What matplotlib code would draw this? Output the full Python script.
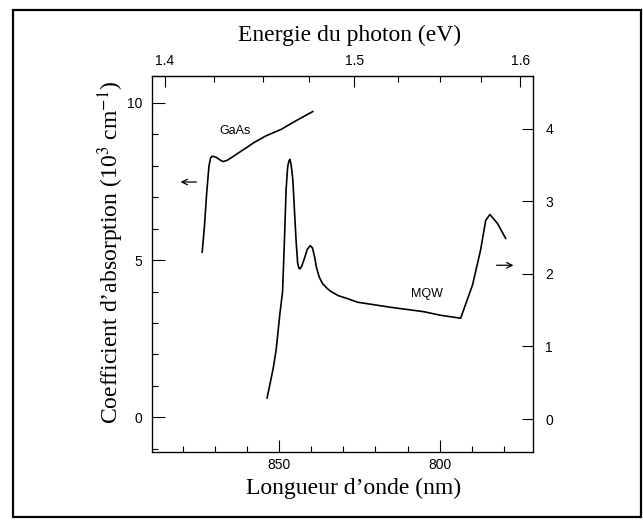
import matplotlib
matplotlib.use("Agg")
import matplotlib.pyplot as plt
import numpy as np
from matplotlib.patches import Rectangle
from matplotlib.ticker import MultipleLocator, FixedLocator

plt.rcParams['mathtext.fontset'] = 'stix'

# GaAs absorption (left axis, 10^3 cm^-1) vs wavelength (nm)
gaas_nm = [873.9, 873.2, 872.5, 871.8, 871.3, 870.8, 869.6, 868.6, 867.5, 866.1,
           864.6, 861.8, 859.7, 857.7, 854.0, 849.4, 845.2, 839.5]
gaas_abs = [5.25, 6.06, 7.12, 7.97, 8.24, 8.30, 8.27, 8.20, 8.13, 8.17,
            8.27, 8.46, 8.60, 8.74, 8.95, 9.15, 9.40, 9.72]

# MQW absorption (right axis) vs wavelength (nm)
mqw_nm = [853.7, 851.8, 850.9, 849.7, 848.9, 848.3, 847.8, 847.3, 846.9, 846.6,
          846.2, 845.7, 844.7, 844.2, 843.8, 843.5, 843.0, 842.2, 841.2, 840.3,
          839.6, 839.0, 838.3, 837.5, 836.5, 835.0, 833.9, 831.5, 828.7, 825.5,
          815.2, 805.0, 799.7, 793.5, 789.8, 787.3, 785.7, 784.4, 782.1, 779.5]
mqw_abs = [0.29, 0.70, 0.95, 1.46, 1.75, 2.47, 3.16, 3.48, 3.56, 3.58,
           3.50, 3.30, 2.47, 2.15, 2.08, 2.07, 2.10, 2.20, 2.34, 2.39,
           2.36, 2.25, 2.08, 1.96, 1.87, 1.80, 1.76, 1.70, 1.66, 1.61,
           1.54, 1.48, 1.43, 1.39, 1.85, 2.33, 2.74, 2.82, 2.70, 2.49]

left_ticks = [0, 5, 10]
right_ticks = [0, 1, 2, 3, 4]
nm_ticks = [850, 800]
ev_ticks = [1.4, 1.5, 1.6]
ev_labels = ['1.4', '1.5', '1.6']

HC = 1239.84


def nm_to_ev(x):
    x = np.asarray(x, dtype=float)
    with np.errstate(divide='ignore', invalid='ignore'):
        return HC / x


serif = 'Liberation Serif'
sans = 'Liberation Sans'

fig = plt.figure(figsize=(6.43, 5.20), dpi=100)

# scanned frame around the figure
fig.patches.append(Rectangle((12.5 / 643, 1 - 517 / 520), 628 / 643, 507 / 520,
                             transform=fig.transFigure, fill=False,
                             lw=1.6, edgecolor='black'))

ax = fig.add_axes([152 / 643, 1 - 452 / 520, 381 / 643, 376 / 520])
ax.plot(gaas_nm, gaas_abs, color='black', lw=1.2)
ax.set_xlim(889.5, 771)
ax.set_ylim(-1.1, 10.85)

ax2 = ax.twinx()
ax2.plot(mqw_nm, mqw_abs, color='black', lw=1.2)
ax2.set_ylim(-0.455, 4.73)

# ticks
ax.xaxis.set_major_locator(FixedLocator(nm_ticks))
ax.xaxis.set_minor_locator(MultipleLocator(10))
ax.yaxis.set_major_locator(FixedLocator(left_ticks))
ax.yaxis.set_minor_locator(MultipleLocator(1))
ax.tick_params(axis='both', which='major', direction='in', length=9, width=0.8,
               labelsize=10, pad=7)
ax.tick_params(axis='x', which='major', pad=4)
ax.tick_params(axis='both', which='minor', direction='in', length=4, width=0.8)
ax.tick_params(axis='y', right=False)
ax2.yaxis.set_major_locator(FixedLocator(right_ticks))
ax2.tick_params(axis='y', direction='in', length=8, width=0.8, labelsize=10, pad=9)

top = ax.secondary_xaxis('top', functions=(nm_to_ev, nm_to_ev))
top.xaxis.set_major_locator(FixedLocator(ev_ticks))
top.set_xticklabels(ev_labels)
top.xaxis.set_minor_locator(MultipleLocator(0.025))
top.tick_params(which='major', direction='in', length=8, width=0.8, labelsize=10, pad=6)
top.tick_params(which='minor', direction='in', length=4, width=0.8)

for a in (ax, ax2, top):
    for lab in a.get_xticklabels() + a.get_yticklabels():
        lab.set_fontfamily(sans)
for s in ax.spines.values():
    s.set_linewidth(0.9)

# curve labels and arrows
ax.text(863.8, 9.1, 'GaAs', family=sans, fontsize=9, ha='center', va='center')
ax2.text(804.0, 1.73, 'MQW', family=sans, fontsize=9, ha='center', va='center')
ax.annotate('', xy=(881.5, 7.48), xytext=(874.8, 7.48),
            arrowprops=dict(arrowstyle='->', color='black', lw=0.9))
ax2.annotate('', xy=(776.2, 2.12), xytext=(783.2, 2.12),
             arrowprops=dict(arrowstyle='->', color='black', lw=0.9))

# axis titles
fig.text(350 / 643, 1 - 35 / 520, 'Energie du photon (eV)', family=serif,
         fontsize=17, ha='center', va='center')
fig.text(354 / 643, 1 - 488 / 520, 'Longueur d\u2019onde (nm)', family=serif,
         fontsize=17, ha='center', va='center')
fig.text(111 / 643, 1 - 252 / 520,
         'Coefficient d\u2019absorption (10$^{3}$ cm$^{-1}$)', family=serif,
         fontsize=17, ha='center', va='center', rotation=90)

fig.savefig('out.png', dpi=100)
